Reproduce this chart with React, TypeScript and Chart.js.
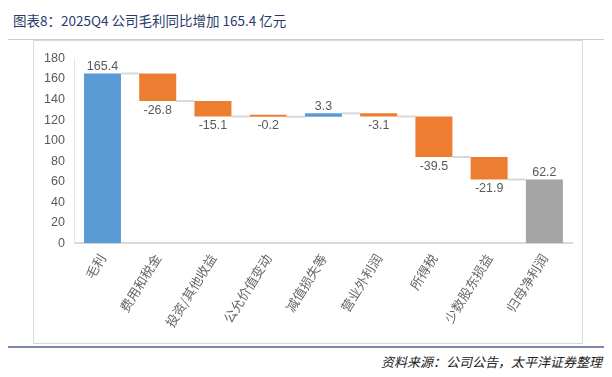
import React, { useEffect, useRef } from "react";
import { Chart, registerables } from "chart.js";

Chart.register(...registerables);

const categories = ["毛利", "费用和税金", "投资/其他收益", "公允价值变动", "减值损失等", "营业外利润", "所得税", "少数股东损益", "归母净利润"];
const values = [165.4, -26.8, -15.1, -0.2, 3.3, -3.1, -39.5, -21.9, 62.2];
const kinds = ["total", "delta", "delta", "delta", "delta", "delta", "delta", "delta", "total"];
const yTicks = [0, 20, 40, 60, 80, 100, 120, 140, 160, 180];

const BLUE = "#5b9bd5";
const ORANGE = "#ed7d31";
const GRAY = "#a5a5a5";
const TXT = "#595959";
const NUMFONT = "'Liberation Sans', Arial, 'Noto Sans CJK SC', sans-serif";

function buildRanges() {
  const ranges: [number, number][] = [];
  let cum = 0;
  values.forEach((v, i) => {
    if (kinds[i] === "total") {
      ranges.push([0, v]);
      cum = v;
    } else {
      ranges.push([cum, cum + v]);
      cum = cum + v;
    }
  });
  return ranges;
}

const connectorPlugin = {
  id: "connectors",
  beforeDatasetsDraw(chart: any) {
    const meta = chart.getDatasetMeta(0);
    const ys = chart.scales.y;
    const ranges = chart.data.datasets[0].data as [number, number][];
    const ctx = chart.ctx;
    ctx.save();
    ctx.strokeStyle = "#d9d9d9";
    ctx.lineWidth = 2;
    for (let i = 0; i < meta.data.length - 1; i++) {
      const a = meta.data[i];
      const b = meta.data[i + 1];
      const level = ranges[i][1];
      const y = ys.getPixelForValue(level);
      ctx.beginPath();
      ctx.moveTo(a.x + a.width / 2, y);
      ctx.lineTo(b.x - b.width / 2, y);
      ctx.stroke();
    }
    ctx.restore();
  },
};

const labelPlugin = {
  id: "barLabels",
  afterDatasetsDraw(chart: any) {
    const meta = chart.getDatasetMeta(0);
    const ys = chart.scales.y;
    const ranges = chart.data.datasets[0].data as [number, number][];
    const ctx = chart.ctx;
    ctx.save();
    ctx.fillStyle = TXT;
    ctx.font = `12.5px ${NUMFONT}`;
    ctx.textAlign = "center";
    meta.data.forEach((bar: any, i: number) => {
      const v = values[i];
      const [s, e] = ranges[i];
      const txt = v.toFixed(1);
      if (v >= 0) {
        const y = ys.getPixelForValue(Math.max(s, e));
        ctx.textBaseline = "bottom";
        ctx.fillText(txt, bar.x, y - 1);
      } else {
        const y = ys.getPixelForValue(Math.min(s, e));
        ctx.textBaseline = "top";
        ctx.fillText(txt, bar.x, y + 3);
      }
    });
    ctx.restore();
  },
};

function WaterfallChart() {
  const ref = useRef<HTMLCanvasElement>(null);
  useEffect(() => {
    if (!ref.current) return;
    const ranges = buildRanges();
    const colors = values.map((v, i) => (kinds[i] === "total" ? (i === 0 ? BLUE : GRAY) : v >= 0 ? BLUE : ORANGE));
    const chart = new Chart(ref.current, {
      type: "bar",
      data: {
        labels: categories,
        datasets: [
          {
            data: ranges as any,
            backgroundColor: colors,
            borderWidth: 0,
            barPercentage: 1,
            categoryPercentage: 0.67,
            minBarLength: 2,
          },
        ],
      },
      options: {
        animation: false,
        responsive: false,
        maintainAspectRatio: false,
        layout: { padding: { top: 8, right: 10, bottom: 5, left: 0 } },
        plugins: { legend: { display: false }, tooltip: { enabled: false } },
        scales: {
          x: {
            grid: { display: false, drawTicks: false },
            border: { display: true, color: "#d9d9d9", width: 2 },
            ticks: {
              color: "#666666",
              font: { size: 13, family: "'Noto Sans CJK SC', sans-serif" },
              minRotation: 58,
              maxRotation: 58,
              padding: 8,
              autoSkip: false,
            },
          },
          y: {
            min: 0,
            max: 180,
            afterBuildTicks: (axis: any) => {
              axis.ticks = yTicks.map((v) => ({ value: v }));
            },
            grid: { display: false, drawTicks: false },
            border: { display: true, color: "#e6e6e6", width: 1 },
            ticks: {
              color: TXT,
              font: { size: 12.5, family: NUMFONT },
              padding: 10,
            },
          },
        },
      },
      plugins: [connectorPlugin, labelPlugin],
    });
    return () => chart.destroy();
  }, []);
  return <canvas ref={ref} width={548} height={302} style={{ display: "block", width: 548, height: 302 }} />;
}

export default function App() {
  return (
    <div style={{ position: "relative", width: 612, height: 377, margin: -8, background: "#fff", overflow: "hidden" }}>
      <div style={{ position: "absolute", left: 4, right: 0, top: 3, height: 3, background: "#6d7aa6" }} />
      <div
        style={{
          position: "absolute",
          left: 13,
          top: 10,
          fontFamily: "'Noto Sans CJK SC', sans-serif",
          fontSize: 13.5,
          color: "#2a3b6b",
          whiteSpace: "nowrap",
          lineHeight: "20px",
        }}
      >
        图表8：2025Q4 公司毛利同比增加 165.4 亿元
      </div>
      <div style={{ position: "absolute", left: 0, right: 0, top: 39, height: 1, background: "#c9cce0" }} />
      <div
        style={{
          position: "absolute",
          left: 33,
          top: 40,
          width: 548,
          height: 302,
          border: "1px solid #d9d9d9",
          boxSizing: "content-box",
        }}
      >
        <WaterfallChart />
      </div>
      <div style={{ position: "absolute", left: 4, right: 0, top: 346, height: 2, background: "#7f89b0" }} />
      <div
        style={{
          position: "absolute",
          right: 8,
          top: 352,
          fontFamily: "'Noto Sans CJK SC', sans-serif",
          fontSize: 13,
          fontStyle: "italic",
          color: "#222",
          whiteSpace: "nowrap",
          lineHeight: "20px",
          paddingRight: 2,
        }}
      >
        资料来源：公司公告，太平洋证券整理
      </div>
    </div>
  );
}
